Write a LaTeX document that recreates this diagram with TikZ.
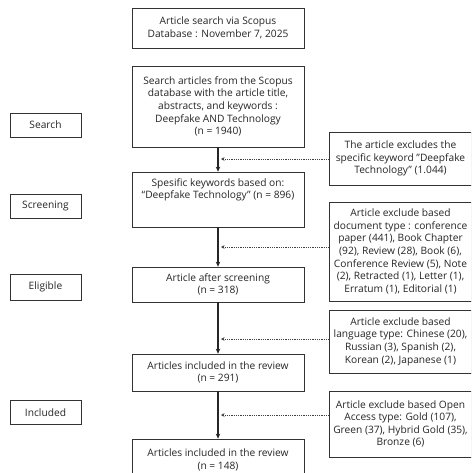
\documentclass[tikz,border=0pt]{standalone}
\usepackage{fontspec}
\setmainfont{Open Sans}
\usetikzlibrary{arrows.meta,shadows}
\newcommand{\boxfont}{\fontsize{10.2}{12.6}\selectfont}

\tikzset{
  box/.style={draw=black!80, line width=0.7pt, fill=white, align=center,
    inner sep=2pt, text=black!85, font=\boxfont,
    drop shadow={shadow xshift=0.9pt, shadow yshift=-0.9pt, fill=black!35, opacity=1}},
  mainbox/.style={box, minimum width=172pt},
  stagebox/.style={box, minimum width=71pt, minimum height=24pt},
  exbox/.style={box, minimum width=143pt},
  flow/.style={-{Stealth[length=5pt,width=4.5pt]}, line width=1.3pt, black!85},
  skip/.style={dash pattern=on 0.9pt off 0.9pt, -{Stealth[length=3.5pt,width=3.5pt]}, line width=0.9pt, black!75}
}

\begin{document}
\begin{tikzpicture}[x=1pt,y=-1pt]
\clip (0,0) rectangle (471,473);
\fill[white] (0,0) rectangle (471,473);
% main column
\node[mainbox, minimum height=40pt] (srch) at (218,28) {Article search via Scopus\\Database : November 7, 2025};
\node[mainbox, minimum height=81pt] (query) at (218,106.5) {Search articles from the Scopus\\database with the article title,\\abstracts, and keywords :\\Deepfake AND Technology\\(n = 1940)};
\node[mainbox, minimum height=55pt] (kw) at (218,199.5) {Spesific keywords based on:\\“Deepfake Technology” (n = 896)\\[9pt]\mbox{}};
\node[mainbox, minimum height=35pt] (scr) at (218,284.5) {Article after screening\\(n = 318)};
\node[mainbox, minimum height=37pt] (incl) at (218,372.5) {Articles included in the review\\(n = 291)};
\node[mainbox, minimum height=42pt] (final) at (218,460) {Articles included in the review\\(n = 148)};
% stage labels
\node[stagebox] (search) at (45.5,125) {Search};
\node[stagebox] (screen) at (45.5,206) {Screening};
\node[stagebox, minimum height=26pt] (elig) at (45.5,287) {Eligible};
\node[stagebox] (incd) at (45.5,412.5) {Included};
% exclusions
\node[exbox, minimum height=53pt] (ex1) at (400.5,158.5) {The article excludes the\\specific keyword "Deepfake\\Technology” (1.044)};
\node[exbox, minimum height=99pt] (ex2) at (400.5,251.5) {Article exclude based\\document type : conference\\paper (441), Book Chapter\\(92), Review (28), Book (6),\\Conference Review (5), Note\\(2), Retracted (1), Letter (1),\\Erratum (1), Editorial (1)};
\node[exbox, minimum height=63pt] (ex3) at (400.5,341.5) {Article exclude based\\language type: Chinese (20),\\Russian (3), Spanish (2),\\Korean (2), Japanese (1)};
\node[exbox, minimum height=66pt] (ex4) at (400.5,424) {Article exclude based Open\\Access type: Gold (107),\\Green (37), Hybrid Gold (35),\\Bronze (6)};
% flow arrows
\draw[flow] (query) -- (kw);
\draw[flow] (kw) -- (scr);
\draw[flow] (scr) -- (incl);
\draw[flow] (incl) -- (final);
% dotted exclusion arrows
\coordinate (j1) at (221,159);
\coordinate (j2) at (221,247);
\coordinate (j3) at (221,339);
\coordinate (j4) at (221,415);
\draw[skip] (ex1.west |- j1) -- (j1);
\draw[skip] (ex2.west |- j2) -- (j2);
\draw[skip] (ex3.west |- j3) -- (j3);
\draw[skip] (ex4.west |- j4) -- (j4);
\end{tikzpicture}
\end{document}
